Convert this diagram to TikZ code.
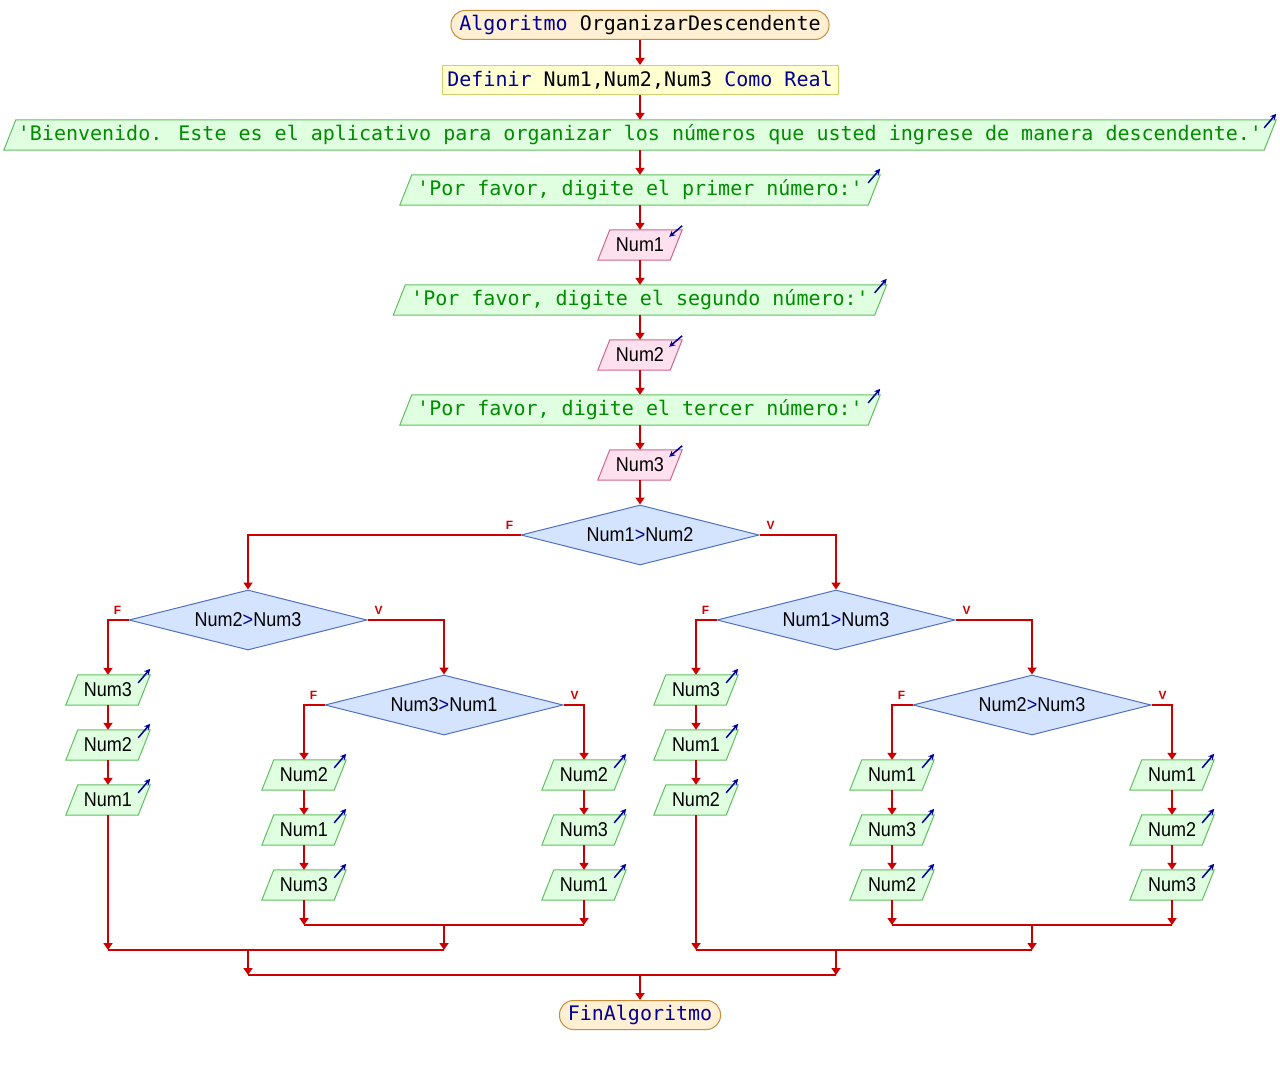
\documentclass[tikz,border=0pt]{standalone}
\usepackage{fontspec}
\usetikzlibrary{arrows.meta,shapes.geometric}
\newfontfamily\monof{DejaVu Sans Mono}
\newfontfamily\numf[FakeStretch=0.9]{Liberation Sans}
\newfontfamily\lblf{Liberation Sans}
\definecolor{cred}{RGB}{204,0,0}
\definecolor{cblue}{RGB}{0,0,150}
\definecolor{cgreen}{RGB}{0,140,0}
\definecolor{termf}{RGB}{255,240,212}
\definecolor{termb}{RGB}{200,140,60}
\definecolor{deff}{RGB}{255,255,208}
\definecolor{defb}{RGB}{208,208,110}
\definecolor{outf}{RGB}{224,255,224}
\definecolor{outb}{RGB}{96,192,96}
\definecolor{inpf}{RGB}{255,224,238}
\definecolor{inpb}{RGB}{208,100,144}
\definecolor{diaf}{RGB}{212,228,255}
\definecolor{diab}{RGB}{80,112,192}
\definecolor{iconc}{RGB}{0,0,160}
\tikzset{
  conn/.style={draw=cred, line width=2pt, -{Triangle[width=9pt,length=7pt]}},
  plainln/.style={draw=cred, line width=2pt},
  mono/.style={font=\monof\fontsize{20pt}{24pt}\selectfont},
  numtxt/.style={font=\numf\fontsize{20pt}{24pt}\selectfont, text=black},
  term/.style={mono, draw=termb, fill=termf, line width=1pt, rounded corners=14pt, minimum height=29pt, inner sep=0pt},
  defbox/.style={mono, draw=defb, fill=deff, line width=1pt, minimum height=29pt, inner sep=0pt},
  boxsz/.style={minimum height=30pt, inner sep=0pt},
  outshape/.style={draw=outb, fill=outf, line width=1pt},
  inpshape/.style={draw=inpb, fill=inpf, line width=1pt},
  icon/.style={draw=iconc, line width=1.5pt, -{Stealth[width=6pt,length=6pt]}},
  dia/.style={diamond, draw=diab, fill=diaf, line width=1pt, aspect=4, minimum width=238pt, minimum height=60pt, inner sep=0pt, numtxt},
  fv/.style={text=cred, font=\lblf\bfseries\fontsize{12pt}{14pt}\selectfont, inner sep=0pt}
}
% #1 name, #2 x, #3 y, #4 width, #5 text style, #6 text
\newcommand\outpg[6]{%
  \node[boxsz, minimum width=#4pt] (#1) at (#2,#3) {};
  \filldraw[outshape] ([xshift=12pt]#1.north west) -- (#1.north east) -- ([xshift=-12pt]#1.south east) -- (#1.south west) -- cycle;
  \node[#5] at (#1) {#6};
  \draw[icon] ([shift={(-12pt,-8pt)}]#1.north east) -- ++(12,-14);
}
\newcommand\inppg[4]{%
  \node[boxsz, minimum width=84pt] (#1) at (#2,#3) {};
  \filldraw[inpshape] ([xshift=12pt]#1.north west) -- (#1.north east) -- ([xshift=-12pt]#1.south east) -- (#1.south west) -- cycle;
  \node[numtxt] at (#1) {#4};
  \draw[icon] ([shift={(0pt,4pt)}]#1.north east) -- ++(-13,11);
}
\newcommand\fvlabels[1]{%
  \node[fv] at ([shift={(-11pt,10pt)}]#1.west) {F};
  \node[fv] at ([shift={(11pt,10pt)}]#1.east) {V};
}
\begin{document}
\begin{tikzpicture}[x=1pt,y=-1pt]
\useasboundingbox[fill=white] (0,0) rectangle (1280,1065);

\node[term, minimum width=378pt] (start) at (640,25) {\textcolor{cblue}{Algoritmo} OrganizarDescendente};
\node[defbox, minimum width=396pt] (def) at (640,80) {\textcolor{cblue}{Definir} Num1,Num2,Num3 \textcolor{cblue}{Como Real}};
\outpg{msg0}{640}{135}{1272}{mono,text=cgreen}{'Bienvenido. Este es el aplicativo para organizar los números que usted ingrese de manera descendente.'}
\outpg{msg1}{640}{190}{480}{mono,text=cgreen}{'Por favor, digite el primer número:'}
\inppg{in1}{640}{245}{Num1}
\outpg{msg2}{640}{300}{493}{mono,text=cgreen}{'Por favor, digite el segundo número:'}
\inppg{in2}{640}{355}{Num2}
\outpg{msg3}{640}{410}{480}{mono,text=cgreen}{'Por favor, digite el tercer número:'}
\inppg{in3}{640}{465}{Num3}

\node[dia] (d1) at (640,535) {Num1\textcolor{cblue}{>}Num2};
\node[dia] (d2) at (248,620) {Num2\textcolor{cblue}{>}Num3};
\node[dia] (d3) at (444,705) {Num3\textcolor{cblue}{>}Num1};
\node[dia] (d4) at (836,620) {Num1\textcolor{cblue}{>}Num3};
\node[dia] (d5) at (1032,705) {Num2\textcolor{cblue}{>}Num3};
\fvlabels{d1}\fvlabels{d2}\fvlabels{d3}\fvlabels{d4}\fvlabels{d5}

% columns
\outpg{a1}{108}{690}{84}{numtxt}{Num3}
\outpg{a2}{108}{745}{84}{numtxt}{Num2}
\outpg{a3}{108}{800}{84}{numtxt}{Num1}
\outpg{b1}{304}{775}{84}{numtxt}{Num2}
\outpg{b2}{304}{830}{84}{numtxt}{Num1}
\outpg{b3}{304}{885}{84}{numtxt}{Num3}
\outpg{c1}{584}{775}{84}{numtxt}{Num2}
\outpg{c2}{584}{830}{84}{numtxt}{Num3}
\outpg{c3}{584}{885}{84}{numtxt}{Num1}
\outpg{e1}{696}{690}{84}{numtxt}{Num3}
\outpg{e2}{696}{745}{84}{numtxt}{Num1}
\outpg{e3}{696}{800}{84}{numtxt}{Num2}
\outpg{f1}{892}{775}{84}{numtxt}{Num1}
\outpg{f2}{892}{830}{84}{numtxt}{Num3}
\outpg{f3}{892}{885}{84}{numtxt}{Num2}
\outpg{g1}{1172}{775}{84}{numtxt}{Num1}
\outpg{g2}{1172}{830}{84}{numtxt}{Num2}
\outpg{g3}{1172}{885}{84}{numtxt}{Num3}

\node[term, minimum width=161pt] (end) at (640,1015) {\textcolor{cblue}{FinAlgoritmo}};

% main chain
\draw[conn] (start.south) -- (def.north);
\draw[conn] (def.south) -- (msg0.north);
\draw[conn] (msg0.south) -- (msg1.north);
\draw[conn] (msg1.south) -- (in1.north);
\draw[conn] (in1.south) -- (msg2.north);
\draw[conn] (msg2.south) -- (in2.north);
\draw[conn] (in2.south) -- (msg3.north);
\draw[conn] (msg3.south) -- (in3.north);
\draw[conn] (in3.south) -- (d1.north);

% branches
\draw[conn] (d1.west) -| (d2.north);
\draw[conn] (d1.east) -| (d4.north);
\draw[conn] (d2.west) -| (a1.north);
\draw[conn] (d2.east) -| (d3.north);
\draw[conn] (d3.west) -| (b1.north);
\draw[conn] (d3.east) -| (c1.north);
\draw[conn] (d4.west) -| (e1.north);
\draw[conn] (d4.east) -| (d5.north);
\draw[conn] (d5.west) -| (f1.north);
\draw[conn] (d5.east) -| (g1.north);

% column chains
\foreach \c in {a,b,c,e,f,g}{
  \draw[conn] (\c1.south) -- (\c2.north);
  \draw[conn] (\c2.south) -- (\c3.north);
}

% joins
\coordinate (jB) at (304,925);
\coordinate (jC) at (584,925);
\coordinate (jBC) at (444,925);
\coordinate (jBC2) at (444,950);
\coordinate (jA) at (108,950);
\coordinate (jL) at (248,950);
\coordinate (jL2) at (248,975);
\coordinate (jE) at (892,925);
\coordinate (jF) at (1172,925);
\coordinate (jEF) at (1032,925);
\coordinate (jEF2) at (1032,950);
\coordinate (jD) at (696,950);
\coordinate (jR) at (836,950);
\coordinate (jR2) at (836,975);
\coordinate (jM) at (640,975);

\draw[conn] (b3.south) -- (jB);
\draw[conn] (c3.south) -- (jC);
\draw[plainln] (jB) -- (jC);
\draw[conn] (jBC) -- (jBC2);
\draw[conn] (a3.south) -- (jA);
\draw[plainln] (jA) -- (jBC2);
\draw[conn] (jL) -- (jL2);

\draw[conn] (f3.south) -- (jE);
\draw[conn] (g3.south) -- (jF);
\draw[plainln] (jE) -- (jF);
\draw[conn] (jEF) -- (jEF2);
\draw[conn] (e3.south) -- (jD);
\draw[plainln] (jD) -- (jEF2);
\draw[conn] (jR) -- (jR2);

\draw[plainln] (jL2) -- (jR2);
\draw[conn] (jM) -- (end.north);
\end{tikzpicture}
\end{document}
